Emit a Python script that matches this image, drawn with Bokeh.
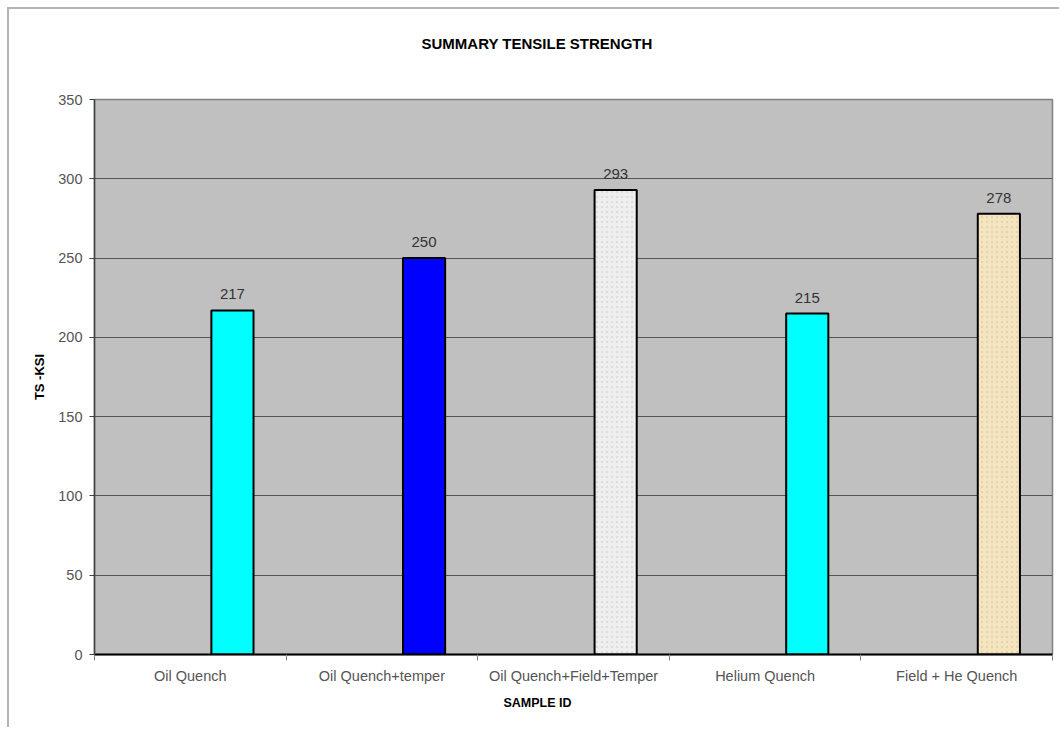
from bokeh.plotting import figure
from bokeh.models import (ColumnDataSource, Range1d, FixedTicker, LabelSet, Title)
from bokeh.core.properties import value
from bokeh.embed import file_html
from bokeh.resources import INLINE

categories = ["Oil Quench", "Oil Quench+temper", "Oil Quench+Field+Temper",
              "Helium Quench", "Field + He Quench"]
values = [217, 250, 293, 215, 278]
value_labels = ["217", "250", "293", "215", "278"]
bar_colors = ["#00FFFF", "#0000FF", "#EFEFEF", "#00FFFF", "#F4E4C1"]
bar_texture = [" ", " ", "dot", " ", "dot"]
texture_colors = ["#00FFFF", "#0000FF", "#D9D9D9", "#00FFFF", "#E6D0A4"]
y_ticks = [0, 50, 100, 150, 200, 250, 300, 350]

n = len(categories)
BAR_POS = 0.72   # bar centre inside each category slot (Excel gap layout)
BAR_W = 0.22

src = ColumnDataSource(dict(
    x=[i + BAR_POS for i in range(n)],
    top=values,
    color=bar_colors,
    hatch=bar_texture,
    hcolor=texture_colors,
    label=value_labels,
))

FONT = "Liberation Sans"

p = figure(width=1052, height=720, output_backend="svg", toolbar_location=None,
           x_range=Range1d(0, n), y_range=Range1d(0, 350),
           min_border_left=85, min_border_right=9, min_border_top=90,
           min_border_bottom=75)
p.styles = {"margin-left": "7px", "margin-top": "7px",
            "border-left-width": "2px", "border-left-style": "solid",
            "border-left-color": "#B4B4B4",
            "border-top-width": "2px", "border-top-style": "solid",
            "border-top-color": "#B4B4B4"}

p.background_fill_color = "#C0C0C0"
p.border_fill_color = "white"
p.outline_line_color = "#808080"
p.outline_line_width = 1.5

# spacer between frame and chart title
p.add_layout(Title(text=" ", text_font_size="1px", standoff=45), "above")

# title
p.title.text = "SUMMARY TENSILE STRENGTH"
p.title.align = "left"
p.title.offset = 327
p.title.text_font = FONT
p.title.text_font_size = "15px"
p.title.text_font_style = "bold"
p.title.text_color = "black"
p.title.standoff = 0

p.vbar(x="x", top="top", width=BAR_W, bottom=0, source=src,
       fill_color="color", line_color="black", line_width=2,
       hatch_pattern="hatch", hatch_color="hcolor", hatch_scale=5,
       hatch_weight=1.5, hatch_alpha=0.8)

labels = LabelSet(x="x", y="top", text="label", source=src, y_offset=11,
                  text_align="center", text_baseline="bottom",
                  text_font=value(FONT), text_font_size=value("15px"),
                  text_color="#333333")
p.add_layout(labels)

# grids
p.xgrid.grid_line_color = None
p.ygrid.grid_line_color = "#555555"
p.ygrid.grid_line_width = 1

# x axis
xa = p.xaxis[0]
xa.ticker = FixedTicker(ticks=[i + 0.5 for i in range(n)],
                        minor_ticks=list(range(n + 1)))
xa.major_label_overrides = {i + 0.5: c for i, c in enumerate(categories)}
xa.major_tick_in = 0
xa.major_tick_out = 0
xa.minor_tick_in = 0
xa.minor_tick_out = 6
xa.minor_tick_line_color = "#808080"
xa.axis_line_color = "black"
xa.axis_line_width = 2
xa.major_label_text_font = FONT
xa.major_label_text_font_size = "14.5px"
xa.major_label_text_color = "#555555"
xa.major_label_standoff = 7

xt = Title(text="SAMPLE ID", align="left", offset=409, text_font=FONT,
           text_font_size="12.5px", text_font_style="bold", text_color="black",
           standoff=15)
p.add_layout(xt, "below")

# y axis
ya = p.yaxis[0]
ya.ticker = FixedTicker(ticks=y_ticks)
ya.minor_tick_line_color = None
ya.major_tick_in = 0
ya.major_tick_out = 5
ya.major_tick_line_color = "#404040"
ya.axis_line_color = "#404040"
ya.axis_line_width = 1.5
ya.major_label_text_font = FONT
ya.major_label_text_font_size = "14.5px"
ya.major_label_text_color = "#555555"
ya.major_label_standoff = 7
ya.axis_label = "TS -KSI"
ya.axis_label_text_font = FONT
ya.axis_label_text_font_size = "13px"
ya.axis_label_text_font_style = "bold"
ya.axis_label_text_color = "black"
ya.axis_label_standoff = 8

open("out.html", "w").write(file_html(p, INLINE))
